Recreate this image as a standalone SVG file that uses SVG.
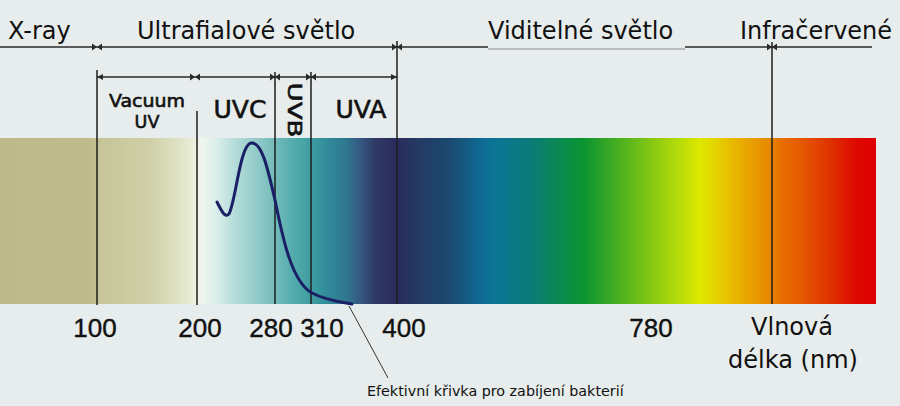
<svg xmlns="http://www.w3.org/2000/svg" width="900" height="406" viewBox="0 0 900 406">
<defs>
<linearGradient id="spec" gradientUnits="userSpaceOnUse" x1="0" y1="0" x2="1000" y2="0">
<stop offset="0" stop-color="#bdb98a"/>
<stop offset="0.090" stop-color="#bfbb8c"/>
<stop offset="0.100" stop-color="#c6c498"/>
<stop offset="0.150" stop-color="#d0d0a8"/>
<stop offset="0.180" stop-color="#dfe3c6"/>
<stop offset="0.195" stop-color="#ecf0dc"/>
<stop offset="0.202" stop-color="#f0f6ef"/>
<stop offset="0.215" stop-color="#dcefeb"/>
<stop offset="0.235" stop-color="#b4dcd9"/>
<stop offset="0.260" stop-color="#8cc8c6"/>
<stop offset="0.280" stop-color="#6ab6b6"/>
<stop offset="0.300" stop-color="#4aa6a8"/>
<stop offset="0.315" stop-color="#3a9aa0"/>
<stop offset="0.330" stop-color="#30889a"/>
<stop offset="0.345" stop-color="#2f7890"/>
<stop offset="0.360" stop-color="#345a80"/>
<stop offset="0.375" stop-color="#2f3a66"/>
<stop offset="0.395" stop-color="#2b2b5c"/>
<stop offset="0.420" stop-color="#243a64"/>
<stop offset="0.450" stop-color="#1a4a70"/>
<stop offset="0.480" stop-color="#0f6a94"/>
<stop offset="0.495" stop-color="#0b7596"/>
<stop offset="0.530" stop-color="#0b7a78"/>
<stop offset="0.560" stop-color="#0a8a50"/>
<stop offset="0.585" stop-color="#0c9530"/>
<stop offset="0.610" stop-color="#3aa824"/>
<stop offset="0.640" stop-color="#70bf18"/>
<stop offset="0.680" stop-color="#b8dc08"/>
<stop offset="0.700" stop-color="#dde800"/>
<stop offset="0.720" stop-color="#e6cc00"/>
<stop offset="0.745" stop-color="#e8a800"/>
<stop offset="0.770" stop-color="#e68800"/>
<stop offset="0.780" stop-color="#e87000"/>
<stop offset="0.800" stop-color="#e55a00"/>
<stop offset="0.830" stop-color="#e03200"/>
<stop offset="0.855" stop-color="#dd0a00"/>
<stop offset="0.876" stop-color="#e00000"/>
</linearGradient>
<marker id="ah" viewBox="0 0 10 10" refX="10" refY="5" markerWidth="6" markerHeight="6" markerUnits="userSpaceOnUse" orient="auto-start-reverse">
<path d="M0,0 L10,5 L0,10 Z" fill="#2a2a2a"/>
</marker>
<g id="bow">
<path d="M-5,-3.5 L0,0 L-5,3.5 Z M5,-3.5 L0,0 L5,3.5 Z" fill="#2a2a2a"/>
</g>
<style>
.ln{stroke:#2a2a2a;stroke-width:1.6;fill:none}
.vl{stroke:#1e1e1e;stroke-width:1.5;fill:none}
.head{font-family:"DejaVu Sans",Verdana,sans-serif;font-size:24px;fill:#111}
.num{font-family:"Liberation Sans",Arial,sans-serif;font-size:26px;fill:#111;stroke:#111;stroke-width:0.4}
.band{font-family:"DejaVu Sans",Verdana,sans-serif;fill:#111;stroke:#111;stroke-width:0.6;text-anchor:middle}
.note{font-family:"DejaVu Sans",Verdana,sans-serif;font-size:14.3px;fill:#111}
</style>
</defs>
<rect x="0" y="0" width="900" height="406" fill="#e7ecec"/>
<g id="spectrum">
<rect x="0" y="138" width="876" height="166" fill="url(#spec)"/>
</g>
<g id="connectors">
<line class="ln" x1="0" y1="47" x2="488" y2="47"/>
<line x1="488" y1="49" x2="685" y2="49" stroke="#8a8e8e" stroke-width="1"/>
<line class="ln" x1="685" y1="47" x2="872" y2="47"/>
<use href="#bow" x="97" y="47"/>
<use href="#bow" x="397" y="47"/>
<use href="#bow" x="772" y="47"/>
<line class="ln" x1="97" y1="77" x2="397" y2="77" marker-start="url(#ah)" marker-end="url(#ah)"/>
<use href="#bow" x="195" y="77"/>
<use href="#bow" x="275" y="77"/>
<use href="#bow" x="311" y="77"/>
<line class="vl" x1="97" y1="70" x2="97" y2="305"/>
<line class="vl" x1="197" y1="111" x2="197" y2="305"/>
<line class="vl" x1="275" y1="72" x2="275" y2="304"/>
<line class="vl" x1="311" y1="72" x2="311" y2="304"/>
<line class="vl" x1="397" y1="41" x2="397" y2="304"/>
<line class="vl" x1="772" y1="42" x2="772" y2="304"/>
<path id="curve" d="M217,202 C222,212 225,218 229,214 C236,200 240,145 251,143 C262,141 268,170 275,200 C283,240 292,282 312,293 C325,300 340,302 352,304" fill="none" stroke="#1a1f66" stroke-width="3" stroke-linecap="round"/>
<line x1="349" y1="306" x2="388" y2="378" stroke="#333" stroke-width="1"/>
</g>
<g id="label-xray"><text class="head" x="8" y="39">X-ray</text></g>
<g id="label-uv"><text class="head" x="137" y="39">Ultrafialové světlo</text></g>
<g id="label-vis"><text class="head" x="488" y="39">Viditelné světlo</text></g>
<g id="label-ir"><text class="head" x="740" y="39">Infračervené</text></g>
<g id="band-vacuum">
<text class="band" x="147" y="107" font-size="17.5" textLength="76" lengthAdjust="spacingAndGlyphs">Vacuum</text>
<text class="band" x="147" y="128" font-size="17.5">UV</text>
</g>
<g id="band-uvc"><text class="band" x="240" y="118" font-size="25">UVC</text></g>
<g id="band-uvb"><text class="band" transform="translate(288,110) rotate(90)" font-size="20" textLength="55" lengthAdjust="spacingAndGlyphs">UVB</text></g>
<g id="band-uva"><text class="band" x="361" y="118" font-size="25">UVA</text></g>
<g id="ticks">
<text class="num" x="95" y="337" text-anchor="middle">100</text>
<text class="num" x="200" y="337" text-anchor="middle">200</text>
<text class="num" x="271" y="337" text-anchor="middle">280</text>
<text class="num" x="322" y="337" text-anchor="middle">310</text>
<text class="num" x="404" y="337" text-anchor="middle">400</text>
<text class="num" x="651" y="337" text-anchor="middle">780</text>
</g>
<g id="axis-label">
<text class="head" x="792" y="335" text-anchor="middle">Vlnová</text>
<text class="head" x="793" y="368" text-anchor="middle">délka (nm)</text>
</g>
<g id="note"><text class="note" x="367" y="396">Efektivní křivka pro zabíjení bakterií</text></g>
</svg>
